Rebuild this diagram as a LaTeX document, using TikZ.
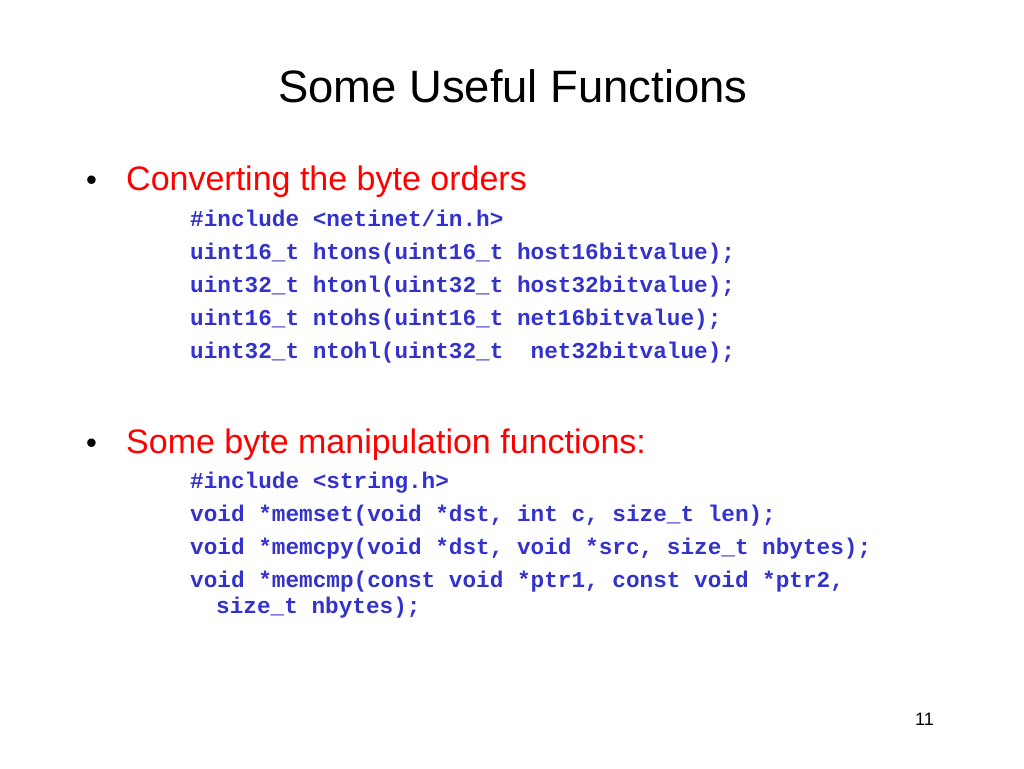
\documentclass[tikz,border=0pt]{standalone}
\usepackage{fontspec}
\setmainfont{Liberation Sans}
\newfontfamily\codefont{Liberation Mono}
\definecolor{codeblue}{RGB}{51,51,204}
\definecolor{bred}{RGB}{255,0,0}
\begin{document}
\begin{tikzpicture}[x=1pt,y=-1pt,
  tt/.style={anchor=base west,inner sep=0pt,font=\fontsize{45.4}{50}\selectfont},
  bt/.style={anchor=base west,inner sep=0pt,text=bred,font=\fontsize{34}{38}\selectfont},
  bul/.style={anchor=base west,inner sep=0pt,font=\fontsize{31}{36}\selectfont},
  ct/.style={anchor=base west,inner sep=0pt,text=codeblue,font=\codefont\bfseries\fontsize{22.7}{26}\selectfont}]
\useasboundingbox (0,0) rectangle (1024,768);
\node[tt] (title) at (278,102) {Some Useful Functions};
\node[bul] (b1) at (86,190) {•};
\node[bt] (t1) at (126,190) {Converting the byte orders};
\node[ct] (c1) at (190,226) {\#include <netinet/in.h>};
\node[ct] (c2) at (190,259) {uint16\_t htons(uint16\_t host16bitvalue);};
\node[ct] (c3) at (190,292) {uint32\_t htonl(uint32\_t host32bitvalue);};
\node[ct] (c4) at (190,325) {uint16\_t ntohs(uint16\_t net16bitvalue);};
\node[ct] (c5) at (190,358) {uint32\_t ntohl(uint32\_t \ net32bitvalue);};
\node[bul] (b2) at (86,453) {•};
\node[bt] (t2) at (126,453) {Some byte manipulation functions:};
\node[ct] (d1) at (190,488) {\#include <string.h>};
\node[ct] (d2) at (190,521) {void *memset(void *dst, int c, size\_t len);};
\node[ct] (d3) at (190,554) {void *memcpy(void *dst, void *src, size\_t nbytes);};
\node[ct] (d4) at (190,587) {void *memcmp(const void *ptr1, const void *ptr2,};
\node[ct] (d5) at (216,613) {size\_t nbytes);};
\node[anchor=base west,inner sep=0pt,font=\fontsize{18}{20}\selectfont] (pg) at (915,725) {11};
\end{tikzpicture}
\end{document}
